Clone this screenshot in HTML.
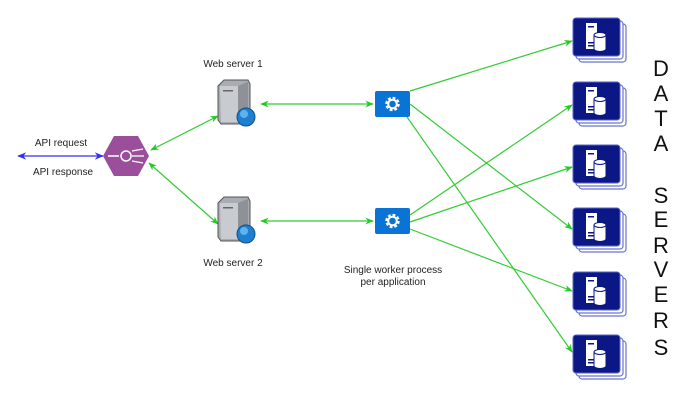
<!DOCTYPE html>
<html><head><meta charset="utf-8"><style>
html,body{margin:0;padding:0;background:#fff;}
svg{display:block;}
text{font-family:"Liberation Sans",sans-serif;}
</style></head><body>
<svg width="693" height="408" viewBox="0 0 693 408" xmlns="http://www.w3.org/2000/svg">
<defs>
<marker id="ga" viewBox="0 0 10 10" refX="9" refY="5" markerWidth="7" markerHeight="7" orient="auto-start-reverse"><path d="M0,1 L10,5 L0,9 L3,5 z" fill="#22cc22"/></marker>
<marker id="ba" viewBox="0 0 10 10" refX="9" refY="5" markerWidth="7" markerHeight="7" orient="auto-start-reverse"><path d="M0,1 L10,5 L0,9 L3,5 z" fill="#3333ee"/></marker>
<g id="ds">
<rect x="6" y="6" width="47" height="38" rx="3" fill="#fff" stroke="#6b73d0" stroke-width="1.2"/>
<rect x="3" y="3" width="47" height="38" rx="3" fill="#fff" stroke="#6b73d0" stroke-width="1.2"/>
<rect x="0" y="0" width="47" height="38" rx="3" fill="#0a1785" stroke="#5a63c8" stroke-width="1"/>
<rect x="13" y="5" width="11" height="26" fill="#fff"/>
<rect x="15" y="8" width="6" height="1.5" fill="#0a1785"/>
<rect x="15" y="24" width="6" height="1.5" fill="#0a1785"/>
<rect x="15" y="27" width="6" height="1.5" fill="#0a1785"/>
<path d="M21,17 a6,2.5 0 0 1 12,0 v14 a6,2.5 0 0 1 -12,0 z" fill="#fff" stroke="#0a1785" stroke-width="1"/>
<path d="M21,17 a6,2.5 0 0 0 12,0" fill="none" stroke="#0a1785" stroke-width="1"/>
</g>
<g id="ws">
<path d="M0,6 L6,0 L30,0 L32,4 L32,40 L26,44 L3,44 L0,40 z" fill="#a9acb2" stroke="#555" stroke-width="1"/>
<path d="M2,6 L20,6 L20,42 L3,42 z" fill="#c8cbd0"/>
<path d="M20,6 L30,2 L30,40 L20,42 z" fill="#8e9197"/>
<rect x="5" y="10" width="10" height="1.5" fill="#666"/>
<circle cx="28" cy="37" r="9" fill="#1e7fd0" stroke="#0b4f8a" stroke-width="1"/>
<circle cx="26" cy="34" r="4" fill="#5cb3f0"/>
</g>
<g id="gear">
<rect x="0" y="0" width="35" height="26" rx="2" fill="#0a73d6"/>
<circle cx="17.5" cy="13" r="5.5" fill="none" stroke="#fff" stroke-width="3.5" stroke-dasharray="2.6 1.7"/>
<circle cx="17.5" cy="13" r="4.3" fill="none" stroke="#fff" stroke-width="2"/>
</g>
</defs>

<!-- blue api arrow -->
<line x1="18" y1="156" x2="103" y2="156" stroke="#3333ee" stroke-width="1.3" marker-start="url(#ba)" marker-end="url(#ba)"/>
<text x="61" y="146" font-size="10" text-anchor="middle" fill="#222">API request</text>
<text x="63" y="175" font-size="10" text-anchor="middle" fill="#222">API response</text>

<!-- hexagon -->
<polygon points="114,136 138,136 149,156 138,176 114,176 103,156" fill="#9b4f9b"/>
<circle cx="126" cy="156" r="5" fill="none" stroke="#fff" stroke-width="1.5"/>
<line x1="108" y1="156" x2="119" y2="156" stroke="#fff" stroke-width="1.5"/>
<line x1="132" y1="151" x2="143" y2="149" stroke="#fff" stroke-width="1.3"/>
<line x1="132" y1="156" x2="144" y2="156" stroke="#fff" stroke-width="1.3"/>
<line x1="132" y1="161" x2="143" y2="163" stroke="#fff" stroke-width="1.3"/>

<!-- green lines hex to web servers -->
<g stroke="#33cc33" stroke-width="1.2" fill="none">
<line x1="151" y1="150" x2="218" y2="116" marker-start="url(#ga)" marker-end="url(#ga)"/>
<line x1="149" y1="163" x2="218" y2="224" marker-start="url(#ga)" marker-end="url(#ga)"/>
<line x1="261" y1="104" x2="373" y2="104" marker-start="url(#ga)" marker-end="url(#ga)"/>
<line x1="261" y1="221" x2="373" y2="221" marker-start="url(#ga)" marker-end="url(#ga)"/>
<line x1="410" y1="91" x2="572" y2="41" marker-end="url(#ga)"/>
<line x1="410" y1="104" x2="572" y2="229" marker-end="url(#ga)"/>
<line x1="407" y1="117" x2="572" y2="352" marker-end="url(#ga)"/>
<line x1="410" y1="215" x2="572" y2="105" marker-end="url(#ga)"/>
<line x1="410" y1="222" x2="572" y2="167" marker-end="url(#ga)"/>
<line x1="410" y1="229" x2="572" y2="291" marker-end="url(#ga)"/>
</g>

<use href="#ws" x="218" y="80"/>
<use href="#ws" x="218" y="197"/>
<text x="233" y="67" font-size="10" text-anchor="middle" fill="#222">Web server 1</text>
<text x="233" y="266" font-size="10" text-anchor="middle" fill="#222">Web server 2</text>

<use href="#gear" x="375" y="91"/>
<use href="#gear" x="375" y="208"/>
<text x="393" y="273" font-size="10" text-anchor="middle" fill="#222">Single worker process</text>
<text x="393" y="285" font-size="10" text-anchor="middle" fill="#222">per application</text>

<use href="#ds" x="573" y="18"/>
<use href="#ds" x="573" y="82"/>
<use href="#ds" x="573" y="145"/>
<use href="#ds" x="573" y="208"/>
<use href="#ds" x="573" y="272"/>
<use href="#ds" x="573" y="335"/>

<g font-size="22" text-anchor="middle" fill="#111">
<text x="661" y="76">D</text>
<text x="661" y="101">A</text>
<text x="661" y="126">T</text>
<text x="661" y="151">A</text>
<text x="661" y="203">S</text>
<text x="661" y="227">E</text>
<text x="661" y="253">R</text>
<text x="661" y="277">V</text>
<text x="661" y="302">E</text>
<text x="661" y="328">R</text>
<text x="661" y="355">S</text>
</g>
</svg>
</body></html>
